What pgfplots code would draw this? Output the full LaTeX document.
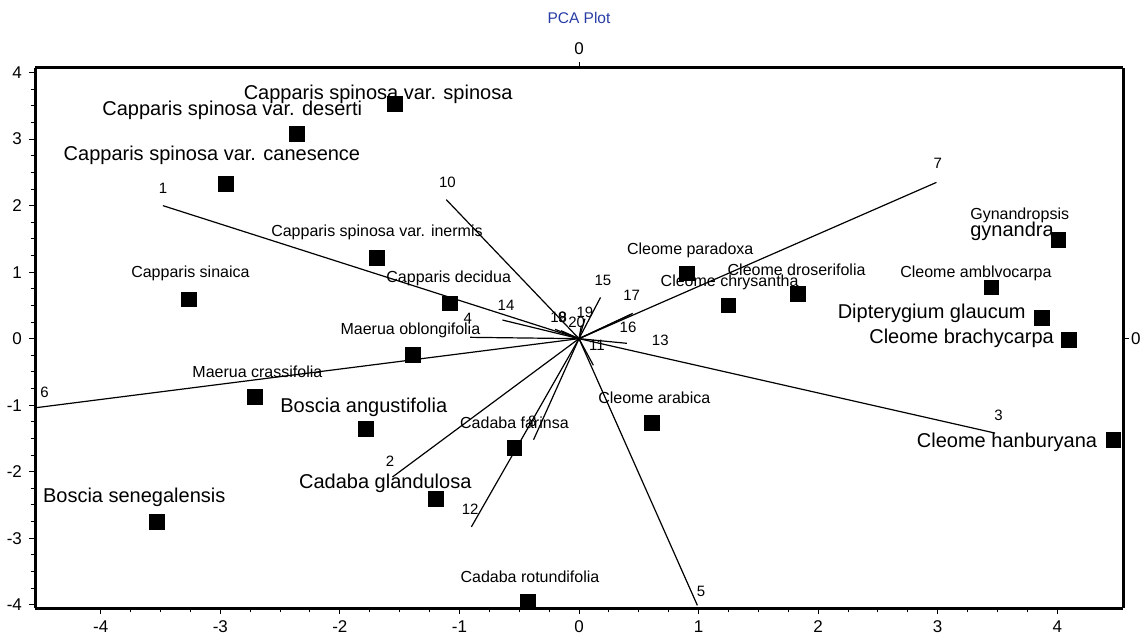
\documentclass[border=0pt]{standalone}
\usepackage{pgfplots}
\pgfplotsset{compat=1.18}
\usepackage{fontspec}
\setmainfont{Liberation Sans}
\definecolor{titleblue}{RGB}{40,60,165}
\newcommand\biglab{\fontsize{10}{12}\selectfont}
\newcommand\smalllab{\fontsize{8}{10}\selectfont}
\newcommand\numlab{\fontsize{7.5}{9}\selectfont}
\begin{document}
\begin{tikzpicture}
\pgfplotsset{
  pcabase/.style={
    scale only axis, width=544pt, height=270pt,
    xmin=-4.55, xmax=4.55, ymin=-4.05, ymax=4.07,
    /pgf/number format/assume math mode=true,
    tick label style={font=\fontsize{8.5}{10}\selectfont},
    tick align=outside,
    major tick length=3pt, minor tick length=2.2pt,
    axis line style={line width=1.5pt},
    every tick/.style={black, line width=0.5pt},
    clip=false,
  }
}
\begin{axis}[pcabase, name=main, axis x line*=bottom, axis y line*=left,
  xtick={-4,...,4}, ytick={-4,...,4}, minor tick num=3]
% loading vectors
\addplot[black, line width=0.6pt] coordinates {(0,0) (-3.48,2.00)};   % 1
\addplot[black, line width=0.6pt] coordinates {(0,0) (-1.56,-2.08)};  % 2
\addplot[black, line width=0.6pt] coordinates {(0,0) (3.48,-1.42)};   % 3
\addplot[black, line width=0.6pt] coordinates {(0,0) (-0.91,0.02)};   % 4
\addplot[black, line width=0.6pt] coordinates {(0,0) (0.99,-4.01)};   % 5
\addplot[black, line width=0.6pt] coordinates {(0,0) (-4.55,-1.04)};  % 6
\addplot[black, line width=0.6pt] coordinates {(0,0) (2.99,2.35)};    % 7
\addplot[black, line width=0.6pt] coordinates {(0,0) (-0.38,-1.52)};  % 8
\addplot[black, line width=0.6pt] coordinates {(0,0) (-0.20,0.14)};   % 9
\addplot[black, line width=0.6pt] coordinates {(0,0) (-1.11,2.09)};   % 10
\addplot[black, line width=0.6pt] coordinates {(0,0) (0.12,-0.40)};   % 11
\addplot[black, line width=0.6pt] coordinates {(0,0) (-0.90,-2.83)};  % 12
\addplot[black, line width=0.6pt] coordinates {(0,0) (0.40,-0.07)};   % 13
\addplot[black, line width=0.6pt] coordinates {(0,0) (-0.64,0.28)};   % 14
\addplot[black, line width=0.6pt] coordinates {(0,0) (0.18,0.62)};    % 15
\addplot[black, line width=0.6pt] coordinates {(0,0) (0.43,0.36)};    % 16
\addplot[black, line width=0.6pt] coordinates {(0,0) (0.45,0.38)};    % 17
\addplot[black, line width=0.6pt] coordinates {(0,0) (-0.15,0.12)};   % 18
\addplot[black, line width=0.6pt] coordinates {(0,0) (0.05,0.30)};    % 19
\addplot[black, line width=0.6pt] coordinates {(0,0) (0.02,0.20)};    % 20
% vector labels
\node[font=\numlab] at (axis cs:-3.48,2.26) {1};
\node[font=\numlab] at (axis cs:-1.58,-1.85) {2};
\node[font=\numlab] at (axis cs:3.51,-1.15) {3};
\node[font=\numlab] at (axis cs:-0.93,0.31) {4};
\node[font=\numlab] at (axis cs:1.02,-3.80) {5};
\node[font=\numlab] at (axis cs:-4.47,-0.80) {6};
\node[font=\numlab] at (axis cs:3.00,2.63) {7};
\node[font=\numlab] at (axis cs:-0.39,-1.25) {8};
\node[font=\numlab] at (axis cs:-0.14,0.32) {9};
\node[font=\numlab] at (axis cs:-1.10,2.35) {10};
\node[font=\numlab] at (axis cs:0.15,-0.10) {11};
\node[font=\numlab] at (axis cs:-0.91,-2.57) {12};
\node[font=\numlab] at (axis cs:0.68,-0.02) {13};
\node[font=\numlab] at (axis cs:-0.61,0.50) {14};
\node[font=\numlab] at (axis cs:0.20,0.88) {15};
\node[font=\numlab] at (axis cs:0.41,0.17) {16};
\node[font=\numlab] at (axis cs:0.44,0.65) {17};
\node[font=\numlab] at (axis cs:-0.17,0.32) {18};
\node[font=\numlab] at (axis cs:0.05,0.40) {19};
\node[font=\numlab] at (axis cs:-0.02,0.25) {20};
% species scores
\addplot[only marks, mark=square*, mark size=3.7pt, black] table {
x y
-1.54 3.53
-2.36 3.08
-2.95 2.33
-1.69 1.22
-3.26 0.59
-1.08 0.53
-1.39 -0.25
-2.71 -0.88
-1.78 -1.36
-0.54 -1.64
-1.20 -2.41
-3.53 -2.75
-0.43 -3.95
0.61 -1.27
0.90 0.98
1.25 0.50
1.83 0.67
3.45 0.77
3.87 0.31
4.10 -0.02
4.01 1.48
4.47 -1.52
};
% species labels
\node[font=\biglab] at (axis cs:-1.68,3.68) {Capparis spinosa var. spinosa};
\node[font=\biglab] at (axis cs:-2.90,3.44) {Capparis spinosa var. deserti};
\node[font=\biglab] at (axis cs:-3.07,2.75) {Capparis spinosa var. canesence};
\node[font=\smalllab] at (axis cs:-1.69,1.60) {Capparis spinosa var. inermis};
\node[font=\smalllab] at (axis cs:-3.25,0.98) {Capparis sinaica};
\node[font=\smalllab] at (axis cs:-1.09,0.91) {Capparis decidua};
\node[font=\smalllab] at (axis cs:-1.41,0.13) {Maerua oblongifolia};
\node[font=\smalllab] at (axis cs:-2.69,-0.50) {Maerua crassifolia};
\node[font=\biglab] at (axis cs:-1.80,-1.04) {Boscia angustifolia};
\node[font=\smalllab] at (axis cs:-0.54,-1.27) {Cadaba farinsa};
\node[font=\biglab] at (axis cs:-1.62,-2.17) {Cadaba glandulosa};
\node[font=\biglab] at (axis cs:-3.72,-2.38) {Boscia senegalensis};
\node[font=\smalllab] at (axis cs:-0.41,-3.58) {Cadaba rotundifolia};
\node[font=\smalllab] at (axis cs:0.63,-0.89) {Cleome arabica};
\node[font=\smalllab] at (axis cs:0.93,1.33) {Cleome paradoxa};
\node[font=\smalllab] at (axis cs:1.26,0.85) {Cleome chrysantha};
\node[font=\smalllab] at (axis cs:1.82,1.03) {Cleome droserifolia};
\node[font=\smalllab] at (axis cs:3.32,0.98) {Cleome amblvocarpa};
\node[font=\smalllab, anchor=west, inner xsep=0pt] at (axis cs:3.27,1.85) {Gynandropsis};
\node[font=\biglab, anchor=west, inner xsep=0pt] at (axis cs:3.27,1.62) {gynandra};
\node[font=\biglab] at (axis cs:2.95,0.38) {Dipterygium glaucum};
\node[font=\biglab] at (axis cs:3.20,0.00) {Cleome brachycarpa};
\node[font=\biglab] at (axis cs:3.58,-1.56) {Cleome hanburyana};
\end{axis}
\begin{axis}[pcabase, axis x line*=top, axis y line*=right,
  xtick={0}, ytick={0}, minor tick num=0,
  yticklabel style={xshift=-2.5pt}]
\node[font=\fontsize{7.75}{9}\selectfont, text=titleblue] at (rel axis cs:0.5,1) [yshift=25pt] {PCA Plot};
\end{axis}
\pgfresetboundingbox
\path[use as bounding box] (main.south west) ++(-17.5pt,-14.5pt) rectangle ++(570pt,318.5pt);
\end{tikzpicture}
\end{document}
